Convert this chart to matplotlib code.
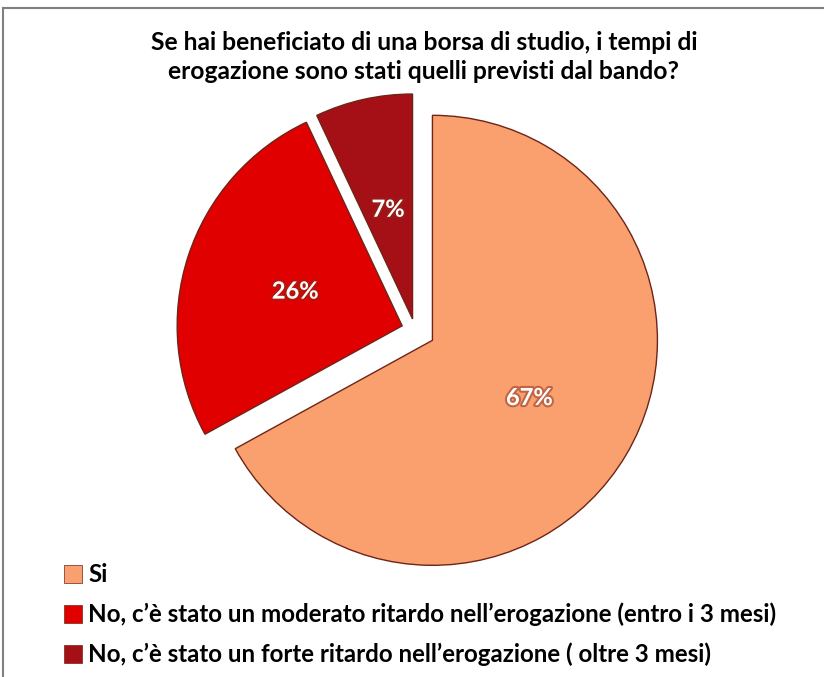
import matplotlib.pyplot as plt
import matplotlib.patheffects as pe
from matplotlib.lines import Line2D

# data
labels = ['Si',
          'No, c\u2019è stato un moderato ritardo nell\u2019erogazione (entro i 3 mesi)',
          'No, c\u2019è stato un forte ritardo nell\u2019erogazione ( oltre 3 mesi)']
values = [67, 26, 7]
colors = ['#FAA06E', '#E00000', '#A51016']
explode = [0.09, 0.06, 0.05]
title = 'Se hai beneficiato di una borsa di studio, i tempi di\nerogazione sono stati quelli previsti dal bando?'

plt.rcParams['font.family'] = ['Lato', 'DejaVu Sans']

W, H = 824, 677
fig = plt.figure(figsize=(W / 100, H / 100), dpi=100)

# pie axes: centre ~ (415, 330) px from top-left, radius 225 px
cx, cy, half = 415, H - 330, 300
ax = fig.add_axes([(cx - half) / W, (cy - half) / H, 2 * half / W, 2 * half / H])
wedges, texts, autotexts = ax.pie(values, colors=colors, explode=explode,
                                  startangle=90, counterclock=False,
                                  autopct='%d%%', pctdistance=0.5,
                                  wedgeprops=dict(edgecolor='#6e2418', linewidth=1.0))
for t in autotexts:
    t.set_color('white')
    t.set_fontsize(17)
    t.set_fontweight('bold')
    t.set_path_effects([pe.withStroke(linewidth=3, foreground='#8a2a1a', alpha=0.5)])
lim = half / 225
ax.set_xlim(-lim, lim)
ax.set_ylim(-lim, lim)
ax.set_aspect('equal')
ax.axis('off')

fig.text(424 / W, 1 - 57 / H, title, ha='center', va='center', fontsize=17.7,
         fontweight='bold', linespacing=1.3)

# frame lines (top and left)
fig.add_artist(Line2D([3 / W, 823 / W], [1 - 8 / H, 1 - 8 / H], color='#808080', lw=1.5))
fig.add_artist(Line2D([3 / W, 3 / W], [1 - 8 / H, 0], color='#808080', lw=1.5))

handles = [plt.Rectangle((0, 0), 1, 1, facecolor=c, edgecolor='#6e2418', lw=0.5) for c in colors]
leg = fig.legend(handles, labels, loc='upper left', bbox_to_anchor=(52 / W, 1 - 551 / H),
                 frameon=False, fontsize=17.4, handlelength=0.75, handleheight=0.75,
                 handletextpad=0.25, labelspacing=0.68, borderpad=0)
for t in leg.get_texts():
    t.set_fontweight('bold')

fig.savefig('out.png', dpi=100)
